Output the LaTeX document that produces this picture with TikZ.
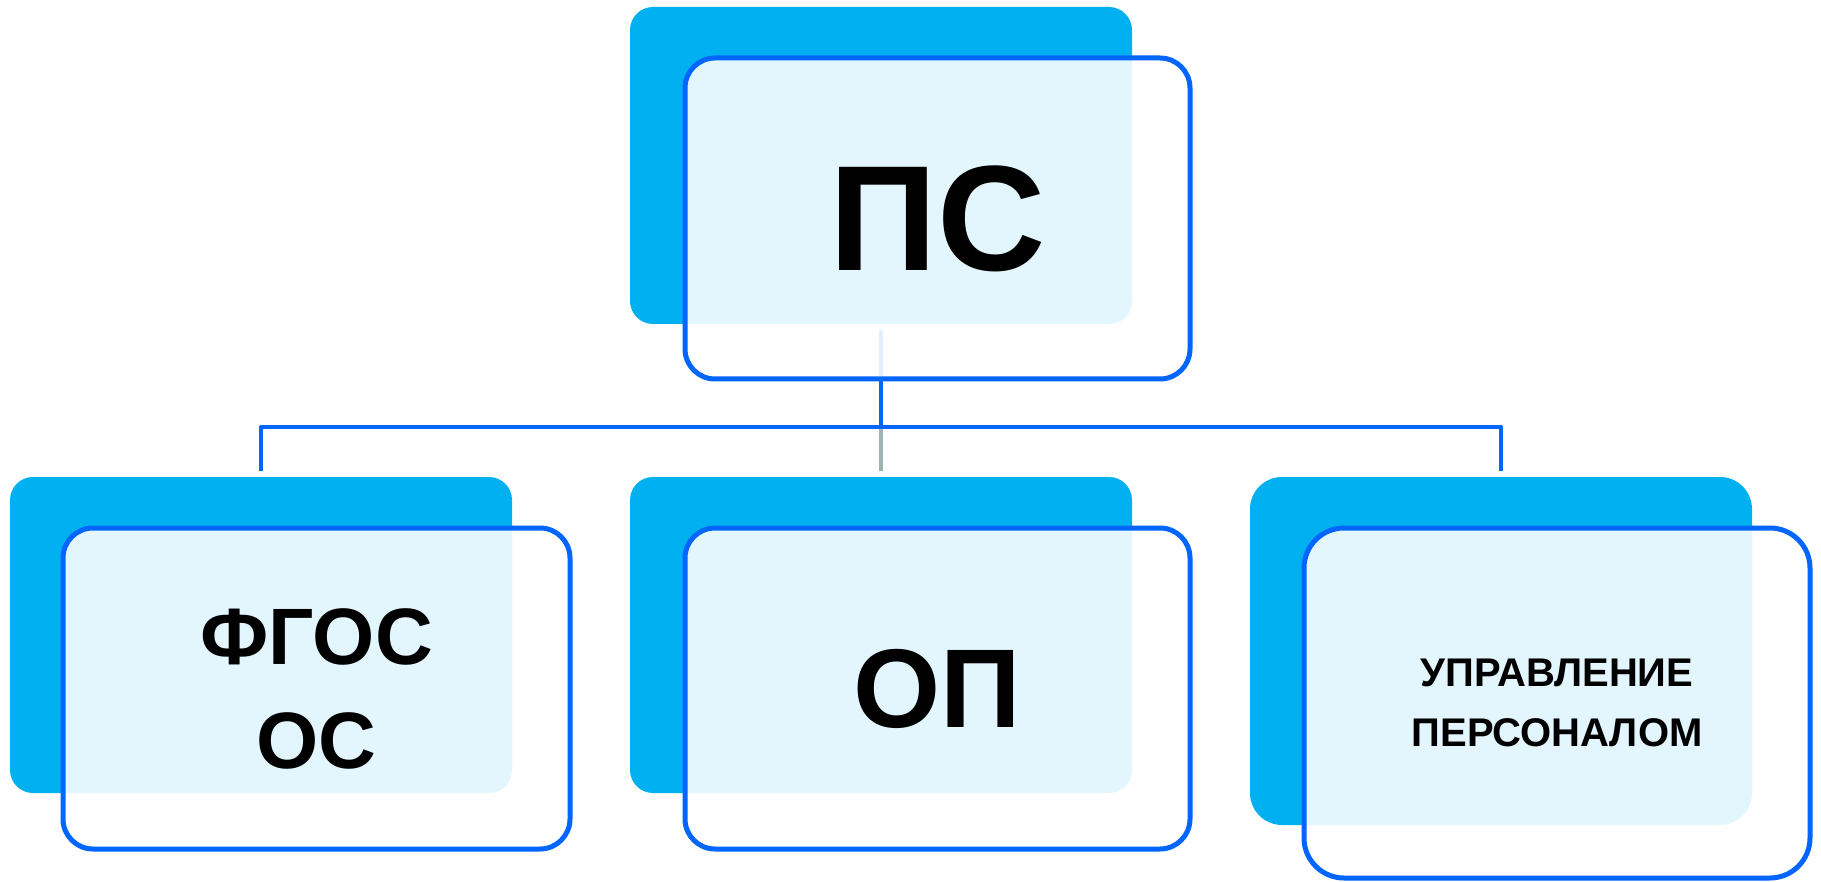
\documentclass[tikz,border=0pt]{standalone}
\usepackage{fontspec}
\setmainfont{Liberation Sans}
\definecolor{cyanbox}{RGB}{0,176,240}
\definecolor{blueline}{RGB}{0,102,255}
\definecolor{grayline}{RGB}{155,180,180}
\tikzset{
  backbox/.style={fill=cyanbox, draw=none, rounded corners=23pt, inner sep=0pt},
  frontbox/.style={fill=white, fill opacity=0.89, text opacity=1, draw=blueline, draw opacity=1,
     line width=5pt, rounded corners=30pt, inner sep=0pt, align=center, font=\bfseries},
  conn/.style={draw=blueline, line width=4.5pt, line join=round},
}
\begin{document}
\begin{tikzpicture}[x=1pt,y=-1pt]
\useasboundingbox (0,0) rectangle (1821,882);
% back boxes
\node[backbox, minimum width=502pt, minimum height=317pt] (tb) at (881,165.5) {};
\node[backbox, minimum width=502pt, minimum height=316pt] (lb) at (261,635) {};
\node[backbox, minimum width=502pt, minimum height=316pt] (mb) at (881,635) {};
\node[backbox, rounded corners=32pt, minimum width=502pt, minimum height=348pt] (rb) at (1501,651) {};
% connectors
\coordinate (c0) at (881,330);
\coordinate (j) at (881,427);
\coordinate (lj) at (261,427);
\coordinate (rj) at (1501,427);
\coordinate (le) at (261,471);
\coordinate (me) at (881,471);
\coordinate (re) at (1501,471);
\draw[conn] (c0) -- (j);
\draw[conn] (le) -- (lj) -- (rj) -- (re);
\draw[conn, draw=grayline] (881,429.5) -- (me);
% front boxes
\node[frontbox, minimum width=505pt, minimum height=321pt, font=\bfseries\fontsize{150}{150}\selectfont] (tf) at (937.5,218.5) {ПС};
\node[frontbox, minimum width=507pt, minimum height=321pt, font=\bfseries\fontsize{80}{104}\selectfont] (lf) at (316.5,688.5) {ФГОС\\ОС};
\node[frontbox, minimum width=505pt, minimum height=321pt, font=\bfseries\fontsize{112}{112}\selectfont] (mf) at (937.5,688.5) {ОП};
\node[frontbox, rounded corners=40pt, minimum width=506pt, minimum height=350pt, font=\bfseries\fontsize{40}{60}\selectfont] (rf) at (1557,703) {УПРАВЛЕНИЕ\\ПЕРСОНАЛОМ};
\end{tikzpicture}
\end{document}
